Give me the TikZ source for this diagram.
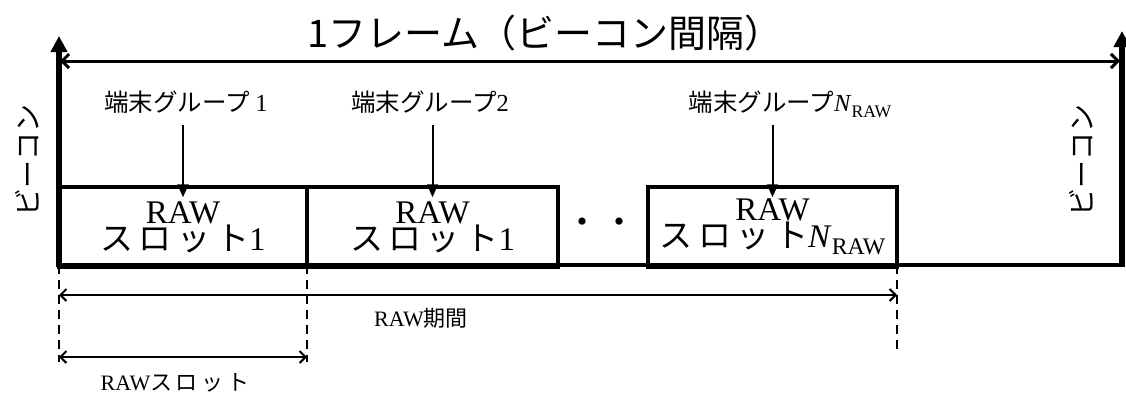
\documentclass[tikz,border=0pt]{standalone}
\usepackage{fontspec}
\setmainfont{Liberation Serif}
\newfontfamily\jp{Noto Sans CJK JP}
\usetikzlibrary{arrows.meta,calc}
\newcommand{\nraw}{\textit{N}\raisebox{-0.22em}{\scalebox{0.72}{RAW}}}
\tikzset{
  slotbox/.style={draw, line width=3.5pt, minimum width=#1, minimum height=80pt, inner sep=0pt,
    align=center, font=\fontsize{33}{27}\selectfont},
  beacon/.style={line width=6pt, -{Triangle[length=16pt,width=16pt]}},
  span/.style={line width=3pt, {Straight Barb[length=7pt,width=14pt]}-{Straight Barb[length=7pt,width=14pt]}},
  measure/.style={line width=2pt, {Straight Barb[length=6pt,width=12pt]}-{Straight Barb[length=6pt,width=12pt]}},
  garrow/.style={line width=2pt, -{Triangle[length=13pt,width=11pt]}},
  guide/.style={line width=2pt, dash pattern=on 9pt off 6pt},
  grp/.style={font=\fontsize{24.5}{26}\selectfont\jp, inner sep=0pt},
  lbl/.style={font=\fontsize{22}{24}\selectfont, inner sep=0pt},
  vlabel/.style={font=\fontsize{28}{30}\selectfont\jp, rotate=90, inner sep=0pt}
}
\begin{document}
\begin{tikzpicture}[x=1pt,y=-1pt]
\useasboundingbox (0,0) rectangle (1126,394);
% baseline and beacons
\coordinate (bl) at (59,265);
\coordinate (br) at (1122,265);
\coordinate (blt) at (59,36);
\coordinate (brt) at (1122,31);
\draw[line width=4pt] (bl) -- (br);
\draw[beacon] ($(bl)+(0,2)$) -- (blt);
\draw[beacon] ($(br)+(0,2)$) -- (brt);
\node[vlabel] (bcl) at (27,160) {ビーコン};
\node[vlabel] (bcr) at (1081,160) {ビーコン};
% frame span
\coordinate (fl) at (60,61);
\coordinate (fr) at (1120,61);
\draw[span] (fl) -- (fr);
\node[font=\fontsize{38}{40}\selectfont\jp, inner sep=0pt] (title) at (545,33) {1フレーム（ビーコン間隔）};
% slots
\node[slotbox=248pt] (s1) at (183,227) {RAW\\{\jp ス\,ロ\,ッ\,ト}1};
\node[slotbox=251pt] (s2) at (432.5,227) {RAW\\{\jp ス\,ロ\,ッ\,ト}1};
\node[slotbox=249pt, minimum height=80pt] (s3) at (772.5,227) {RAW\\{\jp ス\,ロ\,ッ\,ト}\nraw};
\node[font=\fontsize{34}{34}\selectfont\jp, inner sep=0pt] (dots) at (601,226) {・\hspace{4pt}・};
% groups
\node[grp, anchor=north] (g1) at (186,91) {端末グループ {\rmfamily 1}};
\node[grp, anchor=north] (g2) at (430,91) {端末グループ{\rmfamily 2}};
\node[grp, anchor=north] (g3) at (790,91) {端末グループ{\rmfamily\nraw}};
\foreach \g/\s in {g1/s1,g2/s2,g3/s3}{
  \draw[garrow] ($(\s.north)+(0,-60)$) -- ($(\s.north)+(0,12)$);
}
% guides
\draw[guide] (59,265) -- ++(0,97) coordinate (d1);
\draw[guide] (307,265) -- ++(0,97) coordinate (d2);
\draw[guide] (897,265) -- ++(0,87) coordinate (d3);
\coordinate (p1) at (59,295);
\coordinate (p2) at (897,295);
\draw[measure] (p1) -- (p2);
\node[lbl] (rawp) at (421,318) {RAW{\jp 期間}};
\coordinate (q1) at (59,357);
\coordinate (q2) at (307,357);
\draw[measure] (q1) -- (q2);
\node[lbl] (raws) at (175,383) {RAW{\jp ス\,ロ\,ッ\,ト}};
\end{tikzpicture}
\end{document}
